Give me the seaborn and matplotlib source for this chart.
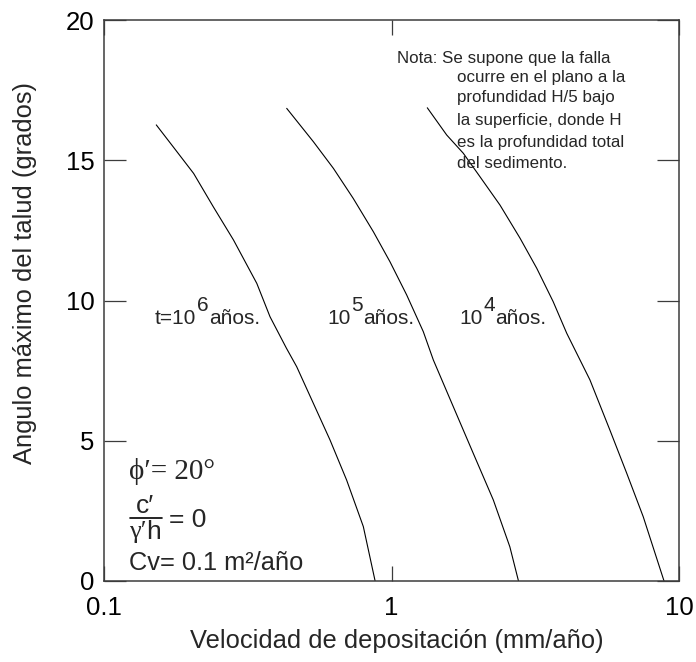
import matplotlib
matplotlib.use("Agg")
import matplotlib.pyplot as plt
from matplotlib.lines import Line2D
from matplotlib.ticker import NullLocator
import pandas as pd
import seaborn as sns

# Velocidad de depositación (mm/año) vs. ángulo máximo del talud (grados)
vel_t1e6 = [0.152, 0.174, 0.205, 0.240, 0.282, 0.340, 0.378, 0.431, 0.468, 0.535, 0.611, 0.698, 0.798, 0.877]
ang_t1e6 = [16.26, 15.48, 14.53, 13.34, 12.16, 10.61, 9.42, 8.30, 7.64, 6.33, 5.03, 3.60, 1.94, 0.0]

vel_t1e5 = [0.432, 0.535, 0.628, 0.736, 0.865, 0.988, 1.129, 1.290, 1.398, 1.641, 1.925, 2.26, 2.58, 2.765]
ang_t1e5 = [16.85, 15.66, 14.71, 13.64, 12.45, 11.38, 10.20, 8.89, 7.88, 6.21, 4.55, 2.89, 1.22, 0.0]

vel_t1e4 = [1.332, 1.556, 1.777, 2.032, 2.385, 2.80, 3.20, 3.65, 4.07, 4.90, 5.75, 6.58, 7.51, 8.87]
ang_t1e4 = [16.87, 15.90, 15.25, 14.41, 13.40, 12.22, 11.15, 9.96, 8.83, 7.17, 5.38, 3.84, 2.29, 0.0]

series_names = ["1e6", "1e5", "1e4"]

x_ticks = [0.1, 1, 10]
x_tick_labels = ["0.1", "1", "10"]
y_ticks = [0, 5, 10, 15, 20]
y_tick_labels = ["0", "5", "10", "15", "20"]

sns.set_theme(style="white")
plt.rcParams["font.family"] = ["Liberation Sans", "DejaVu Sans"]

df = pd.concat(
    [
        pd.DataFrame({"vel": v, "ang": a, "t": name})
        for v, a, name in zip(
            [vel_t1e6, vel_t1e5, vel_t1e4],
            [ang_t1e6, ang_t1e5, ang_t1e4],
            series_names,
        )
    ],
    ignore_index=True,
)

fig = plt.figure(figsize=(6.96, 6.62), dpi=100)
ax = fig.add_axes([104 / 696, 1 - 581 / 662, 575 / 696, 561 / 662])

sns.lineplot(
    data=df, x="vel", y="ang", hue="t", palette=["black"] * 3,
    estimator=None, sort=False, legend=False, linewidth=0.8, ax=ax,
)

ax.set_xscale("log")
ax.set_xlim(0.1, 10)
ax.set_ylim(0, 20)
ax.xaxis.set_minor_locator(NullLocator())
ax.set_xticks(x_ticks, x_tick_labels)
ax.set_yticks(y_ticks, y_tick_labels)

spine_col = "#3c3c3c"
for s in ax.spines.values():
    s.set_color(spine_col)
    s.set_linewidth(1.1)

ax.tick_params(axis="y", which="major", direction="in", length=15.8, width=0.9,
               left=True, right=True, labelright=False, labelsize=18.5, pad=7,
               color=spine_col, labelcolor="black")
ax.tick_params(axis="x", which="major", direction="in", length=10.6, width=0.9,
               bottom=True, top=True, labeltop=False, labelsize=18.5, pad=11,
               color=spine_col, labelcolor="black")

ax.set_xlabel("Velocidad de depositación (mm/año)", fontsize=18.4)
ax.set_ylabel("Angulo máximo del talud (grados)", fontsize=18.4)
ax.xaxis.label.set_va("center")
ax.yaxis.label.set_va("center")
ax.xaxis.set_label_coords((396.5 - 104) / 575, (581 - 641) / 561)
ax.yaxis.set_label_coords((25 - 104) / 575, (581 - 273.5) / 561)

# Curve labels: t = 10^n años.
def curve_label(x, y, base, exp):
    t0 = ax.text(x, y, base, fontsize=15, va="baseline", ha="left")
    sup = ax.annotate(exp, xy=(1, 0), xycoords=t0, xytext=(0.3, 9.5),
                      textcoords="offset points", fontsize=15, va="bottom", ha="left")
    ax.annotate("años.", xy=(1, 0), xycoords=(sup, t0), xytext=(0.5, 0),
                textcoords="offset points", fontsize=15, va="bottom", ha="left")

curve_label(0.1504, 9.16, "t=10", "6")
curve_label(0.597, 9.16, "10", "5")
curve_label(1.721, 9.16, "10", "4")

# Note
def axfrac(px, py):
    return (px - 104) / 575, (581 - py) / 561

note_lines = [
    ("Nota: Se supone que la falla", 396.7, 58),
    ("ocurre en el plano a la", 457.3, 77.3),
    ("profundidad H/5 bajo", 457.3, 97.3),
    ("la superficie, donde H", 457.3, 120),
    ("es la profundidad total", 457.3, 142.7),
    ("del sedimento.", 457.3, 163.3),
]
for txt, px, py in note_lines:
    fx, fy = axfrac(px, py)
    ax.text(fx, fy, txt, transform=ax.transAxes, fontsize=12.2, va="center", ha="left")

# Parameter block
fx, fy = axfrac(129, 471.7)
ax.text(fx, fy, "ϕ′= 20°", transform=ax.transAxes, fontsize=21,
        family=["Liberation Serif", "DejaVu Serif"], va="center", ha="left")

fx, fy = axfrac(145, 506)
ax.text(fx, fy, "c′", transform=ax.transAxes, fontsize=19, va="center", ha="center")
x0, yl = axfrac(130, 518.3)
x1, _ = axfrac(161.7, 518.3)
ax.add_line(Line2D([x0, x1], [yl, yl], transform=ax.transAxes, color="black", linewidth=1.2))
fx, fy = axfrac(129, 532)
g = ax.text(fx, fy, "γ′", transform=ax.transAxes, fontsize=19,
            family=["Liberation Serif", "DejaVu Serif"], va="center", ha="left")
ax.annotate("h", xy=(1, 0.5), xycoords=g, xytext=(0, 0), textcoords="offset points",
            fontsize=19, va="center", ha="left")
fx, fy = axfrac(169, 520)
ax.text(fx, fy, "= 0", transform=ax.transAxes, fontsize=19, va="center", ha="left")

fx, fy = axfrac(129, 563.3)
ax.text(fx, fy, "Cv= 0.1 m²/año", transform=ax.transAxes, fontsize=18.3, va="center", ha="left")

fig.savefig("out.png", dpi=100)
